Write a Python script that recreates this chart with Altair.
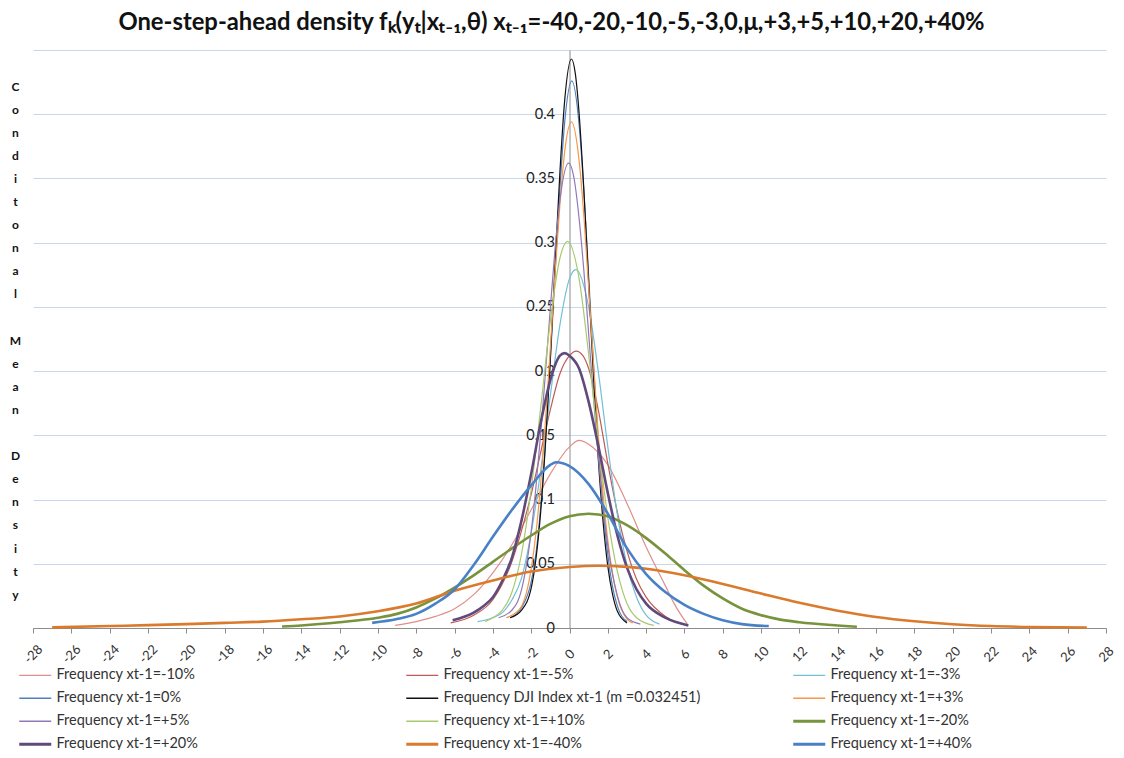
import altair as alt
import pandas as pd

# ---- series names (legend order) ----
names = [
    "Frequency xt-1=-10%",
    "Frequency xt-1=-5%",
    "Frequency xt-1=-3%",
    "Frequency xt-1=0%",
    "Frequency DJI Index xt-1 (m =0.032451)",
    "Frequency xt-1=+3%",
    "Frequency xt-1=+5%",
    "Frequency xt-1=+10%",
    "Frequency xt-1=-20%",
    "Frequency xt-1=+20%",
    "Frequency xt-1=-40%",
    "Frequency xt-1=+40%",
]
colors = ["#E08E8B", "#BF5A57", "#70C0D6", "#5080BE", "#111111", "#F79646",
          "#9178B8", "#A8C96E", "#77933C", "#604A7B", "#DA7A2C", "#4A80C6"]
widths = [1.2, 1.2, 1.2, 1.2, 1.2, 1.2, 1.2, 1.2, 2.6, 2.6, 2.6, 2.6]

# ---- curve values ----
m10_x = [-9.1, -8, -7, -6, -5, -4, -3, -2, -1, 0, 0.5, 1, 2, 3, 4, 5, 5.5, 6.15]
m10_y = [0.002, 0.005, 0.009, 0.015, 0.026, 0.043, 0.065, 0.092, 0.120, 0.141, 0.146,
         0.143, 0.127, 0.097, 0.063, 0.033, 0.018, 0.003]

m5_x = [-6.2, -5, -4, -3, -2.5, -2, -1.5, -1, -0.5, 0, 0.35, 0.7, 1, 1.5, 2, 2.5, 3, 3.5,
        4, 5, 6.2]
m5_y = [0.004, 0.010, 0.022, 0.052, 0.076, 0.104, 0.137, 0.170, 0.198, 0.212, 0.2155,
        0.212, 0.202, 0.170, 0.128, 0.090, 0.060, 0.038, 0.024, 0.009, 0.002]

m3_x = [-4.8, -4.0, -3.5, -3.0, -2.5, -2.0, -1.5, -1.0, -0.5, 0.0, 0.33, 1.0, 1.5, 2.0,
        2.5, 3.0, 3.5, 4.0, 4.7]
m3_y = [0.005, 0.008, 0.012, 0.022, 0.039, 0.074, 0.123, 0.181, 0.236, 0.272, 0.279,
        0.250, 0.200, 0.141, 0.088, 0.049, 0.024, 0.010, 0.003]

z0_x = [-3.1, -2.5, -2.0, -1.75, -1.5, -1.25, -1.0, -0.75, -0.5, -0.25, 0.12, 0.5, 0.75,
        1.0, 1.25, 1.5, 1.75, 2.0, 2.25, 2.5, 3.0]
z0_y = [0.008, 0.016, 0.036, 0.058, 0.095, 0.146, 0.208, 0.277, 0.342, 0.394, 0.426,
        0.392, 0.340, 0.274, 0.206, 0.144, 0.094, 0.057, 0.032, 0.017, 0.005]

dji_x = [-3.1, -2.5, -2.0, -1.75, -1.5, -1.25, -1.0, -0.75, -0.5, -0.25, 0.1, 0.3, 0.5,
         0.75, 1.0, 1.25, 1.5, 1.75, 2.0, 2.25, 2.5, 3.0]
dji_y = [0.008, 0.014, 0.031, 0.054, 0.091, 0.144, 0.210, 0.284, 0.355, 0.411, 0.443,
         0.432, 0.401, 0.341, 0.269, 0.196, 0.132, 0.083, 0.048, 0.026, 0.013, 0.004]

p3_x = [-3.3, -3.0, -2.5, -2.0, -1.75, -1.5, -1.25, -1.0, -0.75, -0.5, -0.25, 0.1, 0.5,
        0.75, 1.0, 1.25, 1.5, 1.75, 2.0, 2.5, 3.0, 3.3]
p3_y = [0.008, 0.010, 0.017, 0.046, 0.074, 0.113, 0.162, 0.218, 0.277, 0.330, 0.371,
        0.394, 0.364, 0.321, 0.265, 0.207, 0.151, 0.104, 0.068, 0.024, 0.007, 0.004]

p5_x = [-3.7, -3.0, -2.5, -2.0, -1.75, -1.5, -1.25, -1.0, -0.75, -0.5, -0.05, 0.25, 0.5,
        0.75, 1.0, 1.25, 1.5, 1.75, 2.0, 2.5, 3.0, 3.7]
p5_y = [0.008, 0.014, 0.030, 0.075, 0.110, 0.152, 0.200, 0.249, 0.296, 0.333, 0.362,
        0.349, 0.319, 0.278, 0.229, 0.180, 0.134, 0.095, 0.064, 0.025, 0.008, 0.003]

p10_x = [-4.4, -4.0, -3.5, -3.0, -2.5, -2.0, -1.5, -1.0, -0.5, -0.1, 0.5, 1.0, 1.5, 2.0,
         2.5, 3.0, 3.5, 4.4]
p10_y = [0.005, 0.008, 0.014, 0.028, 0.058, 0.108, 0.172, 0.239, 0.288, 0.301, 0.272,
         0.213, 0.145, 0.086, 0.044, 0.019, 0.008, 0.002]

m20_x = [-15, -14, -12, -10, -9, -8, -7, -6, -5, -4, -3, -2, -1, 0, 1, 2, 3, 4, 5, 6, 7,
         8, 9, 10, 11, 12, 14, 15]
m20_y = [0.0012, 0.002, 0.0045, 0.008, 0.011, 0.016, 0.023, 0.0315, 0.041, 0.0515,
         0.062, 0.072, 0.081, 0.087, 0.089, 0.087, 0.080, 0.070, 0.058, 0.045, 0.033,
         0.023, 0.015, 0.010, 0.0065, 0.0045, 0.002, 0.001]

p20_x = [-6.1, -5, -4.5, -4, -3.5, -3, -2.5, -2, -1.5, -1, -0.5, -0.25, 0, 0.5, 1, 1.5,
         2, 2.5, 3, 3.5, 4, 5, 6.2]
p20_y = [0.006, 0.012, 0.017, 0.024, 0.037, 0.055, 0.084, 0.120, 0.160, 0.193, 0.212,
         0.214, 0.212, 0.202, 0.176, 0.142, 0.105, 0.072, 0.047, 0.030, 0.019, 0.008,
         0.002]

m40_x = [-27, -24, -22, -20, -18, -16, -14, -12, -10, -8, -6, -4, -2, 0, 1.5, 3, 4, 6,
         8, 10, 12, 14, 16, 18, 20, 22, 24, 27]
m40_y = [0.0005, 0.0015, 0.0022, 0.003, 0.004, 0.005, 0.0068, 0.009, 0.013, 0.019,
         0.029, 0.037, 0.044, 0.0475, 0.0485, 0.0476, 0.0461, 0.041, 0.0343, 0.0268,
         0.0196, 0.0135, 0.0086, 0.0052, 0.0029, 0.0015, 0.0008, 0.0004]

p40_x = [-10.3, -9, -8, -7, -6, -5, -4, -3, -2, -1, -0.7, 0, 1, 2, 3, 4, 5, 6, 7, 8, 9,
         10.4]
p40_y = [0.004, 0.007, 0.011, 0.019, 0.030, 0.049, 0.071, 0.092, 0.111, 0.127, 0.129,
         0.126, 0.112, 0.089, 0.062, 0.042, 0.028, 0.018, 0.011, 0.006, 0.003, 0.0015]

x_ticks = list(range(-28, 29, 2))
y_ticks = [0, 0.05, 0.1, 0.15, 0.2, 0.25, 0.3, 0.35, 0.4, 0.45]

series_xy = [(m10_x, m10_y), (m5_x, m5_y), (m3_x, m3_y), (z0_x, z0_y), (dji_x, dji_y),
             (p3_x, p3_y), (p5_x, p5_y), (p10_x, p10_y), (m20_x, m20_y),
             (p20_x, p20_y), (m40_x, m40_y), (p40_x, p40_y)]

rows = []
for name, w, (xs, ys) in zip(names, widths, series_xy):
    for i, (xv, yv) in enumerate(zip(xs, ys)):
        rows.append({"series": name, "x": xv, "y": yv, "i": i, "w": w})
df = pd.DataFrame(rows)

BL = "\u2800"
ytitle = list("Conditonal") + [BL] + list("Mean") + [BL] + list("Density")

thick_names = "[" + ",".join("'" + n + "'" for n in names[8:]) + "]"

chart = alt.Chart(df).mark_line(interpolate="monotone").encode(
    x=alt.X("x:Q", scale=alt.Scale(domain=[-28, 28], nice=False, zero=False),
            axis=alt.Axis(values=x_ticks, title=None, grid=False,
                          labelExpr="datum.value + ''", labelAngle=315,
                          labelAlign="center", labelBaseline="middle",
                          labelPadding=21, tickSize=5, tickColor="#8C8C8C",
                          domainColor="#8C8C8C", labelFont="Lato",
                          labelFontSize=13, labelColor="#333333")),
    y=alt.Y("y:Q", scale=alt.Scale(domain=[0, 0.45], nice=False),
            axis=alt.Axis(values=y_ticks, offset=-536.5, ticks=False, tickSize=0,
                          labelPadding=15, domainColor="#8C8C8C",
                          gridColor="#C8D8EC", gridWidth=1,
                          labelExpr="datum.value > 0.44 ? '' : format(datum.value, '~g')",
                          labelFont="Lato", labelFontSize=14.5, labelColor="#222222",
                          title=ytitle, titleAngle=0, titleAlign="center",
                          titleBaseline="top", titleX=-554.5, titleY=31,
                          titleLineHeight=23.1, titleFont="Lato",
                          titleFontSize=12, titleFontWeight="bold",
                          titleColor="#111111")),
    color=alt.Color("series:N", scale=alt.Scale(domain=names, range=colors),
                    legend=alt.Legend(orient="none", legendX=-5, legendY=618,
                                      columns=3, direction="horizontal",
                                      gridAlign="all", columnPadding=86,
                                      rowPadding=8, symbolType="stroke",
                                      symbolSize=1024, title=None, padding=0,
                                      labelFont="Lato", labelFontSize=14.5,
                                      labelColor="#333333", labelOffset=14,
                                      labelLimit=400,
                                      symbolStrokeWidth=alt.ExprRef(
                                          "indexof(" + thick_names + ", datum.value) >= 0 ? 3 : 1.4"))),
    strokeWidth=alt.StrokeWidth("w:Q", scale=None, legend=None),
    order=alt.Order("i:Q"),
).properties(
    width=1073,
    height=578,
    autosize=alt.AutoSizeParams(type="none"),
    padding={"left": 25, "top": 42, "right": 10, "bottom": 122},
    title=alt.TitleParams(
        text="One-step-ahead  density fₖ(yₜ|xₜ₋₁,θ) xₜ₋₁=-40,-20,-10,-5,-3,0,μ,+3,+5,+10,+20,+40%",
        font="Lato", fontSize=23.8, fontWeight="bold", anchor="middle", dx=-18,
        offset=15, color="#111111"),
).configure_view(stroke=None)

chart.save("out.html", embed_options={"renderer": "svg", "actions": False})
